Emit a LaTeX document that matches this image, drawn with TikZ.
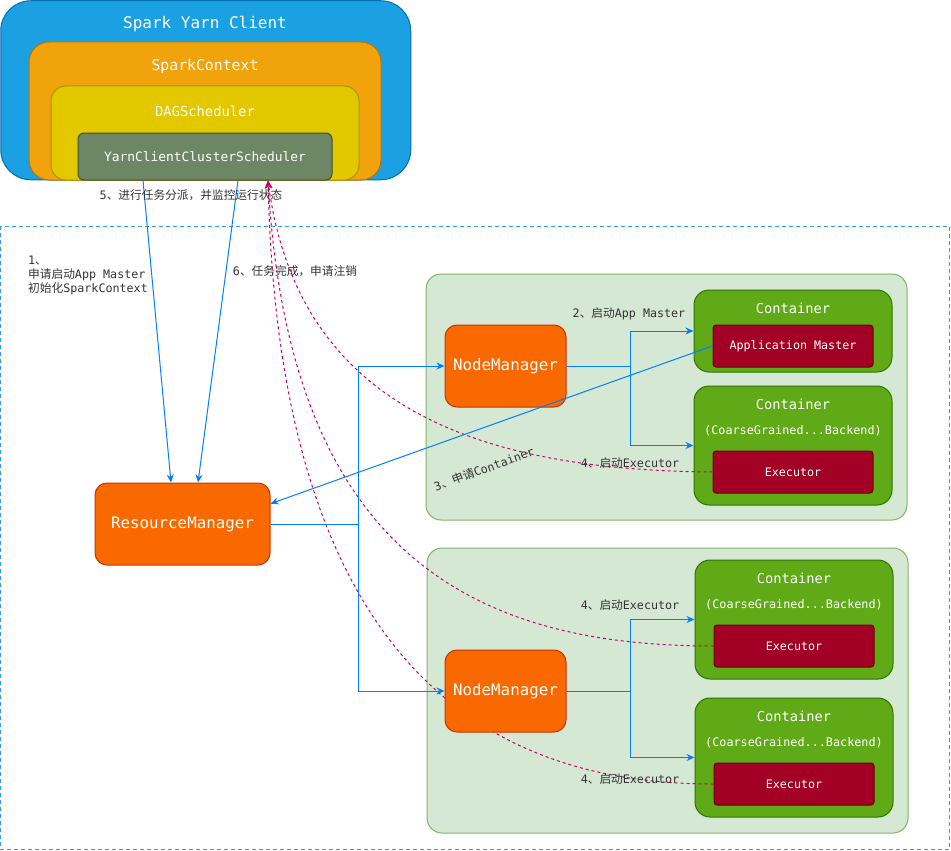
\documentclass[tikz,border=0pt]{standalone}
\usepackage{fontspec}
\setmainfont{DejaVu Sans Mono}
\newfontfamily\cjk{Noto Sans CJK SC}
\newcommand{\zh}[1]{{\cjk #1}}
\usetikzlibrary{arrows.meta, positioning, calc}
\definecolor{ClientBlue}{HTML}{1BA1E2}
\definecolor{ClientBlueLine}{HTML}{006EAF}
\definecolor{CtxOrange}{HTML}{F0A30A}
\definecolor{CtxOrangeLine}{HTML}{BD7000}
\definecolor{DagYellow}{HTML}{E3C800}
\definecolor{DagYellowLine}{HTML}{B09500}
\definecolor{SchedOlive}{HTML}{6D8764}
\definecolor{SchedOliveLine}{HTML}{3A5431}
\definecolor{MgrOrange}{HTML}{FA6800}
\definecolor{MgrOrangeLine}{HTML}{C73500}
\definecolor{HostGreen}{HTML}{D5E8D4}
\definecolor{HostGreenLine}{HTML}{82B366}
\definecolor{ContGreen}{HTML}{60A917}
\definecolor{ContGreenLine}{HTML}{2D7600}
\definecolor{ExecRed}{HTML}{A20025}
\definecolor{ExecRedLine}{HTML}{6F0000}
\definecolor{FlowBlue}{HTML}{007FFF}
\definecolor{ZoneBlue}{HTML}{3399FF}
\definecolor{ReportPink}{HTML}{CC0066}
\definecolor{LabelGray}{HTML}{333333}

\begin{document}
\begin{tikzpicture}[x=1pt, y=-1pt,
    box/.style={rectangle, inner sep=0pt, line width=1pt, align=center, text=white},
    client/.style={box, fill=ClientBlue, draw=ClientBlueLine, rounded corners=30pt},
    ctx/.style={box, fill=CtxOrange, draw=CtxOrangeLine, rounded corners=20pt},
    dag/.style={box, fill=DagYellow, draw=DagYellowLine, rounded corners=15pt},
    sched/.style={box, fill=SchedOlive, draw=SchedOliveLine, rounded corners=6pt, font=\fontsize{12.9}{15}\selectfont},
    mgr/.style={box, fill=MgrOrange, draw=MgrOrangeLine, rounded corners=12pt, font=\fontsize{15.8}{19}\selectfont},
    host/.style={box, fill=HostGreen, draw=HostGreenLine, rounded corners=15pt},
    cont/.style={box, fill=ContGreen, draw=ContGreenLine, rounded corners=15pt},
    exec/.style={box, fill=ExecRed, draw=ExecRedLine, rounded corners=3pt, minimum width=160pt, minimum height=42pt, font=\fontsize{11.7}{14}\selectfont},
    title/.style={inner sep=0pt, text=white},
    lbl/.style={inner sep=0pt, text=LabelGray, font=\fontsize{11.7}{14}\selectfont},
    flow/.style={draw=FlowBlue, line width=1pt, -{Stealth[length=8pt, width=7pt]}},
    report/.style={draw=ReportPink, line width=1pt, dash pattern=on 3pt off 3pt, -{Stealth[length=8pt, width=7pt]}}
]
\useasboundingbox (0,0) rectangle (951,851);

% client side
\node[client, minimum width=410pt, minimum height=179pt] (client) at (205.75,90.25) {};
\node[ctx, minimum width=352pt, minimum height=138pt] (ctx) at (205,111) {};
\node[dag, minimum width=308pt, minimum height=94pt] (dag) at (205,133) {};
\node[sched, minimum width=254pt, minimum height=47pt] (yccs) at (205,156.5) {YarnClientClusterScheduler};
\node[title, font=\fontsize{16}{19}\selectfont] (clienttitle) at (205,24) {Spark Yarn Client};
\node[title, font=\fontsize{14.8}{18}\selectfont] (ctxtitle) at (205,66) {SparkContext};
\node[title, font=\fontsize{13.8}{17}\selectfont] (dagtitle) at (205,111.5) {DAGScheduler};
\coordinate (yccsin) at ($(yccs.south)+(63,0)$);

% cluster zone
\draw[ZoneBlue, line width=1pt, dash pattern=on 4pt off 3pt] (0.8,226) rectangle (949.5,849.5);

% hosts
\node[host, minimum width=481pt, minimum height=246pt] (host1) at (666.5,397) {};
\node[host, minimum width=481pt, minimum height=285pt] (host2) at (667.5,690.5) {};

% containers
\node[cont, minimum width=198pt, minimum height=82pt] (c1) at (793,331) {};
\node[cont, minimum width=198pt, minimum height=119pt] (c2) at (793,445.5) {};
\node[cont, minimum width=198pt, minimum height=119pt] (c3) at (794,619.5) {};
\node[cont, minimum width=198pt, minimum height=119pt] (c4) at (794,757.5) {};
\foreach \n/\x/\y in {c1/793/308, c2/793/404, c3/794/578, c4/794/716}
  \node[title, font=\fontsize{13.7}{16}\selectfont] (\n title) at (\x,\y) {Container};
\foreach \n/\x/\y in {c2/793/431, c3/794/605, c4/794/743}
  \node[title, font=\fontsize{11.8}{14}\selectfont] (\n sub) at (\x,\y) {(CoarseGrained...Backend)};
\node[exec] (am) at (793,346) {Application Master};
\node[exec] (ex1) at (793,472) {Executor};
\node[exec] (ex2) at (794,646) {Executor};
\node[exec] (ex3) at (794,784) {Executor};

% executors report back
\draw[report] (ex1.west) .. controls (500,470) and (300,420) .. (yccsin);
\draw[report] (ex2.west) .. controls (480,646) and (290,560) .. (yccsin);
\draw[report] (ex3.west) .. controls (520,784) and (280,700) .. (yccsin);

% managers
\node[mgr, minimum width=175pt, minimum height=82pt] (rm) at (182.5,524) {ResourceManager};
\node[mgr, minimum width=121pt, minimum height=82pt] (nm1) at (505.5,366) {NodeManager};
\node[mgr, minimum width=121pt, minimum height=82pt] (nm2) at (505.5,691) {NodeManager};

% requests
\draw[flow] ($(yccs.south)+(-62,0)$) -- ($(rm.north)+(-11.5,0)$);
\draw[flow] ($(yccs.south)+(33,0)$) -- ($(rm.north)+(15.5,0)$);
\draw[flow] (rm.east) -- ++(88,0) |- (nm1.west);
\draw[flow] (rm.east) -- ++(88,0) |- (nm2.west);
\draw[flow] (nm1.east) -- ++(64,0) |- (c1.west);
\draw[flow] (nm1.east) -- ++(64,0) |- (c2.west);
\draw[flow] (nm2.east) -- ++(64,0) |- (c3.west);
\draw[flow] (nm2.east) -- ++(64,0) |- (c4.west);
\draw[flow] (am.west) -- (rm.13);

% step labels
\node[lbl] (step5) at (191,195) {5\zh{、进行任务分派，并监控运行状态}};
\node[lbl, anchor=north west, align=left] (step1) at (28,256) {1\zh{、}\\\zh{申请启动}App Master\\\zh{初始化}SparkContext};
\node[lbl] (step6) at (295,271) {6\zh{、任务完成，申请注销}};
\node[lbl] (step2) at (629,314) {2\zh{、启动}App Master};
\node[lbl, rotate=20] (step3) at (484,469) {3\zh{、申请}Container};
\node[lbl] (step4a) at (630,463) {4\zh{、启动}Executor};
\node[lbl] (step4b) at (630,605) {4\zh{、启动}Executor};
\node[lbl] (step4c) at (630,779) {4\zh{、启动}Executor};
\end{tikzpicture}
\end{document}
